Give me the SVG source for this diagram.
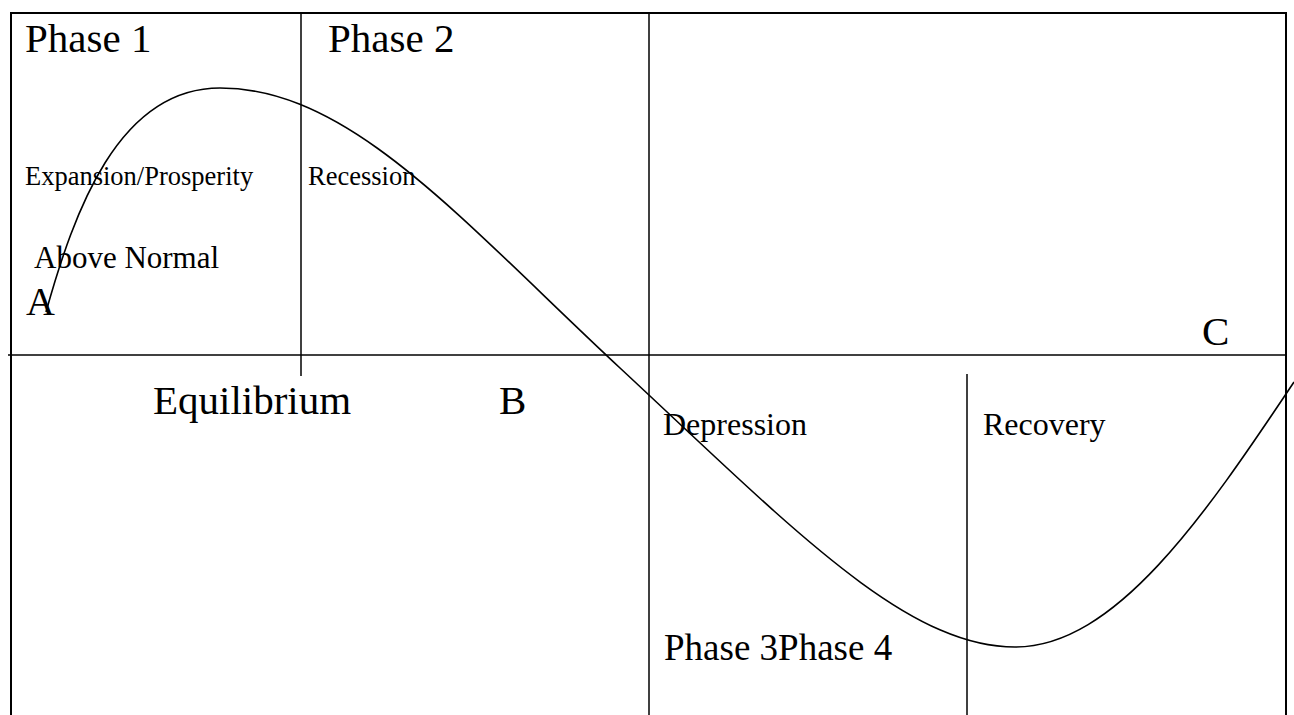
<svg xmlns="http://www.w3.org/2000/svg" width="1294" height="715" viewBox="0 0 1294 715">
<style>
.frame{stroke:#000;stroke-width:2;fill:none}
.div{stroke:#000;stroke-width:1.5;fill:none}
.curve{stroke:#000;stroke-width:1.6;fill:none}
text{font-family:"Liberation Serif","Times New Roman",serif;fill:#000}
.big{font-size:41px}
.mid{font-size:32px}
.sm{font-size:26.5px}
</style>
<rect width="1294" height="715" fill="#fff"/>
<g id="connectors">
<line class="frame" x1="10" y1="13" x2="1287" y2="13"/>
<line class="frame" x1="11" y1="12" x2="11" y2="715"/>
<line class="frame" x1="1286" y1="12" x2="1286" y2="715"/>
<line class="div" x1="8" y1="355" x2="1286" y2="355"/>
<line class="div" x1="301" y1="13" x2="301" y2="376"/>
<line class="div" x1="649" y1="13" x2="649" y2="715"/>
<line class="div" x1="967" y1="374" x2="967" y2="715"/>
<path id="cycle" class="curve" d="M46,312 C74,212 118,88 220,88 C350,88 460,219 620,368 C790,526 905,647 1015,647 C1115,647 1204,517 1294,382"/>
</g>
<g id="phase1"><text class="big" x="25" y="52">Phase 1</text></g>
<g id="phase2"><text class="big" x="328" y="52">Phase 2</text></g>
<g id="expansion"><text class="sm" x="25" y="185">Expansion/Prosperity</text></g>
<g id="recession"><text class="sm" x="308" y="185">Recession</text></g>
<g id="above-normal"><text style="font-size:31px" x="34" y="268">Above Normal</text></g>
<g id="label-a"><text style="font-size:40px" x="26" y="315">A</text></g>
<g id="equilibrium"><text class="big" x="153" y="414">Equilibrium</text></g>
<g id="label-b"><text class="big" x="499" y="414">B</text></g>
<g id="label-c"><text class="big" x="1202" y="345">C</text></g>
<g id="depression"><text class="mid" x="663" y="435">Depression</text></g>
<g id="recovery"><text class="mid" x="983" y="435">Recovery</text></g>
<g id="phase34"><text style="font-size:37px" x="664" y="660">Phase 3Phase 4</text></g>
</svg>
